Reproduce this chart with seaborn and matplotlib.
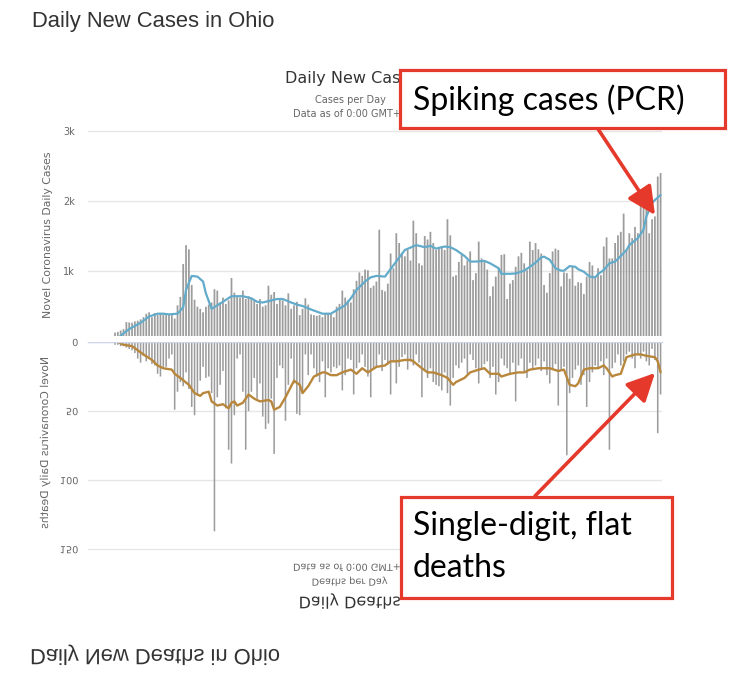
"""Ohio daily cases (top) and daily deaths (mirrored below), screenshot-style,
with two red call-out boxes."""

import matplotlib
matplotlib.use("Agg")
import matplotlib.pyplot as plt
from matplotlib.patches import Rectangle
from matplotlib.patheffects import AbstractPathEffect
from matplotlib.transforms import Affine2D
import pandas as pd
import seaborn as sns

sns.set_theme(style="white")
plt.rcParams["font.family"] = ["DejaVu Sans"]

# daily values, one per day (first days are zero)
CASES = [0, 0, 0, 0, 0, 0, 0, 0, 0,
         120, 130, 150, 170, 270, 265, 260, 280, 290, 310, 340, 390,
         410, 340, 400, 370, 390, 380, 370, 380, 370, 320, 510,
         630, 1100, 1370, 1310, 800, 590, 490, 460, 410, 490, 520,
         550, 740, 720, 550, 620, 530, 580, 900, 690, 640, 620,
         720, 600, 640, 600, 580, 530, 600, 490, 510, 790, 660, 700,
         530, 600, 580, 510, 680, 460, 510, 560, 370, 460, 610, 520,
         380, 370, 360, 370, 340, 400, 390, 380, 340, 490, 530,
         720, 620, 580, 550, 740, 860, 980, 930, 1020, 1010, 760, 790, 850,
         1590,
         730, 710, 820, 1250, 1040, 1540, 1400, 1250, 1210, 1300,
         1150, 1720, 1540, 1110, 1080, 1500, 1450, 1560, 1400, 1300,
         1320, 1350, 1300, 1740, 1510, 920, 940, 1130, 1230, 1080,
         1150, 1280, 870, 970, 1420, 1180, 1130, 1020, 640, 780,
         920, 1040, 1230, 1240, 600, 820, 870, 1060, 1210, 1260,
         1110, 1010, 1420, 1300, 1400, 1310, 1250, 800, 690, 970,
         1280, 1320, 1300, 780, 980, 970, 890, 1060, 790, 840,
         830, 670, 920, 1130, 1080, 920, 1040, 940, 1350, 1480,
         1180, 1180, 1400, 1510, 1560, 1820, 1300, 1540, 1470, 1630,
         1540, 2150, 2140, 2190, 1540, 1740, 1780, 2350, 2400]
DEATHS = [0, 0, 0, 0, 0, 0, 0, 0, 0,
          2, 2, 3, 3, 4, 5, 6, 8, 12, 15,
          10, 14, 11, 16, 17, 23, 25, 18, 18, 12,
          9, 49, 36, 29, 32, 22, 34, 47, 53, 38,
          28, 18, 26, 25, 37, 137, 40, 31, 21, 48,
          78, 88, 53, 12, 9, 36, 78, 50, 36, 26,
          41, 30, 54, 63, 59, 41, 81, 26, 17, 19,
          57, 31, 12, 30, 52, 53, 36, 9, 24, 9,
          19, 25, 29, 14, 40, 19, 22, 18, 19, 17,
          35, 24, 12, 13, 38, 19, 15, 9, 18, 25,
          40, 19,
          18, 9, 21, 13, 16, 38, 14, 30, 18, 11,
          9, 20, 14, 17, 9, 15, 40, 21, 26, 19,
          29, 31, 32, 35, 22, 37, 46, 26, 17, 19,
          15, 12, 23, 9, 13, 19, 30, 19, 16, 14,
          26, 18, 38, 29, 12, 17, 19, 24, 15, 43,
          17, 12, 21, 26, 15, 19, 17, 12, 21, 14,
          24, 30, 19, 16, 46, 21, 18, 82, 37, 26,
          20, 17, 31, 24, 47, 29, 22, 17, 19, 14,
          24, 12, 78, 19, 15, 9, 17, 14, 9, 7,
          12, 19, 9, 12, 7, 14, 17, 5, 13, 66, 38]
DAYS = list(range(len(CASES)))

# 7-day average lines (day index, value)
CASES_AVG_DAY = [9, 12, 14, 18, 21, 24, 26, 28, 31, 33, 34, 36, 38, 40, 41, 43, 45, 47,
                 50, 52, 54, 57, 59, 61, 64, 66, 68, 71, 73, 75, 78, 80, 82, 85, 87, 90,
                 92, 94, 97, 99, 101, 104, 111, 115, 118, 120, 122, 125, 127, 129, 132,
                 134, 136, 139, 141, 144, 145, 148, 150, 153, 155, 157, 159, 160, 162,
                 164, 166, 167, 169, 171, 172, 174, 176, 178, 179, 181, 183, 185, 187,
                 189, 190, 193, 195, 196, 198, 199, 201]
CASES_AVG = [0, 110, 170, 260, 350, 390, 390, 380, 390, 480, 730, 930, 920, 850, 680, 460, 510, 560,
             640, 640, 640, 610, 560, 550, 580, 600, 600, 550, 520, 500, 450, 420, 390, 390, 440, 510,
             610, 730, 850, 910, 930, 920, 1300, 1370, 1340, 1360, 1320, 1350, 1340, 1300, 1215,
             1135, 1135, 1145, 1110, 1040, 960, 960, 965, 1005, 1060, 1120, 1195, 1205, 1160,
             1040, 1005, 1005, 1070, 1060, 1025, 990, 920, 910, 955, 1015, 1110, 1135, 1215,
             1300, 1370, 1470, 1590, 1780, 1970, 2015, 2085]
DEATHS_AVG_DAY = [10, 12, 15, 17, 19, 22, 24, 26, 29, 30, 32, 35, 37, 39, 40, 42, 43, 45, 47,
                  49, 50, 51, 52, 54, 56, 58, 60, 63, 64, 65, 67, 69, 70, 72, 74, 75, 77, 79,
                  82, 83, 85, 87, 89, 92, 94, 96, 98, 101, 104, 106, 108, 111, 113, 114, 117,
                  119, 121, 124, 126, 128, 129, 132, 134, 137, 139, 141, 144, 145, 148, 151,
                  153, 155, 158, 160, 162, 165, 167, 169, 171, 172, 174, 176, 179, 181, 182,
                  184, 185, 187, 189, 192, 194, 196, 199, 200, 201]
DEATHS_AVG = [0, 2, 3, 6, 9, 13, 17, 19, 20, 23, 26, 31, 37, 39, 37, 36, 43, 46, 45,
              48, 44, 43, 46, 44, 38, 41, 43, 42, 43, 49, 47, 40, 36, 28, 31, 37, 32, 25,
              22, 22, 24, 24, 22, 20, 23, 19, 22, 18, 17, 14, 14, 13, 13, 14, 19,
              22, 22, 24, 26, 31, 29, 26, 22, 20, 19, 23, 23, 25, 23, 22,
              22, 20, 19, 19, 19, 21, 20, 31, 32, 30, 20, 19, 19, 17, 19,
              25, 24, 23, 11, 9, 9, 10, 11, 14, 22]

BAR = "#9c9c9c"
BLUE = "#62abcb"
GOLD = "#b8873c"
RED = "#e5392b"
GRID = "#e6e6e6"
AXLINE = "#ccd6eb"
TXT = "#666666"
DARK = "#333333"


class FlipV(AbstractPathEffect):
    """Mirror glyphs top-to-bottom: the lower chart is an upside-down copy."""

    def draw_path(self, renderer, gc, tpath, affine, rgbFace=None):
        bb = tpath.get_extents(affine)
        cy = (bb.y0 + bb.y1) / 2
        flip = Affine2D().translate(0, -cy).scale(1, -1).translate(0, cy)
        renderer.draw_path(gc, tpath, affine + flip, rgbFace)


FLIP = [FlipV()]
W, H = 750, 695
fig = plt.figure(figsize=(W / 100, H / 100), dpi=100, facecolor="white")


def px_axes(x0, y0, x1, y1, **kw):
    return fig.add_axes([x0 / W, 1 - y1 / H, (x1 - x0) / W, (y1 - y0) / H], **kw)


df = pd.DataFrame({"day": DAYS, "cases": CASES, "deaths": DEATHS})

# --- cases (upright) ---
ax_c = px_axes(88, 129, 662, 341)
sns.barplot(data=df, x="day", y="cases", native_scale=True, color=BAR, saturation=1,
            width=0.62, errorbar=None, linewidth=0, ax=ax_c)
for p in ax_c.patches:
    p.set_snap(False)   # even thin bars instead of pixel-snapped stripes
sns.lineplot(x=CASES_AVG_DAY, y=CASES_AVG, color=BLUE, lw=1.6, sort=False, estimator=None, ax=ax_c)
ax_c.set_xlim(-0.5, len(DAYS) - 0.5)
ax_c.set_ylim(0, 3029)
ax_c.set_yticks([1000, 2000, 3000])
ax_c.set_yticklabels(["1k", "2k", "3k"])
ax_c.set_xticks([])
ax_c.set_xlabel("")
ax_c.set_ylabel("Novel Coronavirus Daily Cases", fontsize=7.8, color=TXT, va="center")
ax_c.yaxis.set_label_coords((48 - 88) / 574, 0.5)
ax_c.tick_params(axis="y", length=0, pad=9.5, labelsize=7, labelcolor=TXT)
ax_c.grid(axis="y", color=GRID, lw=1)
ax_c.set_axisbelow(True)
sns.despine(ax=ax_c, left=True, bottom=True)

# --- deaths (mirrored) ---
ax_d = px_axes(88, 342, 662, 552)
sns.barplot(data=df, x="day", y="deaths", native_scale=True, color=BAR, saturation=1,
            width=0.55, errorbar=None, linewidth=0, ax=ax_d)
for p in ax_d.patches:
    p.set_snap(False)
sns.lineplot(x=DEATHS_AVG_DAY, y=DEATHS_AVG, color=GOLD, lw=1.7, sort=False, estimator=None, ax=ax_d)
ax_d.set_xlim(-0.5, len(DAYS) - 0.5)
ax_d.set_ylim(152, 0)
ax_d.set_yticks([0, 50, 100, 150])
ax_d.set_yticklabels(["0", "50", "100", "150"], path_effects=FLIP)
ax_d.set_xticks([])
ax_d.set_xlabel("")
ax_d.set_ylabel("Novel Coronavirus Daily Deaths", fontsize=7.8, color=TXT, va="center", path_effects=FLIP)
ax_d.yaxis.set_label_coords((45 - 88) / 574, (552 - 443) / 210)
ax_d.tick_params(axis="y", length=0, pad=7, labelsize=7, labelcolor=TXT)
ax_d.grid(axis="y", color=GRID, lw=1)
ax_d.set_axisbelow(True)
for side in ["left", "right", "bottom"]:
    ax_d.spines[side].set_visible(False)
ax_d.spines["top"].set_color(AXLINE)
ax_d.spines["top"].set_linewidth(1)

# --- overlay in pixel coordinates: titles, call-outs ---
ax_o = fig.add_axes([0, 0, 1, 1], zorder=3)
ax_o.set_xlim(0, W)
ax_o.set_ylim(H, 0)
ax_o.axis("off")
ax_o.patch.set_alpha(0)

ax_o.add_patch(Rectangle((88, 335.5), 574, 6, color="white", lw=0, zorder=1))

page = dict(family=["Liberation Sans", "DejaVu Sans"], fontsize=15.8, color=DARK)
ax_o.text(32, 22, "Daily New Cases in Ohio", ha="left", va="center", **page)
ax_o.text(30, 655, "Daily New Deaths in Ohio", ha="left", va="center", path_effects=FLIP, **page)

ax_o.text(352, 78, "Daily New Cases", ha="center", va="center", fontsize=11.5, color=DARK)
ax_o.text(350, 100, "Cases per Day", ha="center", va="center", fontsize=7, color=TXT)
ax_o.text(350, 114, "Data as of 0:00 GMT+0", ha="center", va="center", fontsize=7, color=TXT)
ax_o.text(350, 568, "Data as of 0:00 GMT+0", ha="center", va="center", fontsize=7, color=TXT, path_effects=FLIP)
ax_o.text(350, 581, "Deaths per Day", ha="center", va="center", fontsize=7, color=TXT, path_effects=FLIP)
ax_o.text(350, 601, "Daily Deaths", ha="center", va="center", fontsize=11.5, color=DARK, path_effects=FLIP)

note = dict(family=["Lato", "DejaVu Sans"], fontsize=23, color="black", zorder=5)
ax_o.add_patch(Rectangle((400, 70), 325, 58, facecolor="white", edgecolor=RED, lw=2.3, zorder=4))
ax_o.text(413, 100, "Spiking cases (PCR)", ha="left", va="center", **note)
ax_o.add_patch(Rectangle((401, 497), 271, 101, facecolor="white", edgecolor=RED, lw=2.3, zorder=4))
ax_o.text(413, 547, "Single-digit, flat\ndeaths", ha="left", va="center", linespacing=1.5, **note)

arrow = dict(arrowstyle="-|>,head_length=0.85,head_width=0.42", color=RED, lw=2.6,
             mutation_scale=20, shrinkA=0, shrinkB=0)
ax_o.annotate("", xy=(655, 215), xytext=(598, 129), arrowprops=arrow, zorder=4)
ax_o.annotate("", xy=(655, 373), xytext=(535, 496), arrowprops=arrow, zorder=4)

fig.savefig("out.png", dpi=100, facecolor="white")
